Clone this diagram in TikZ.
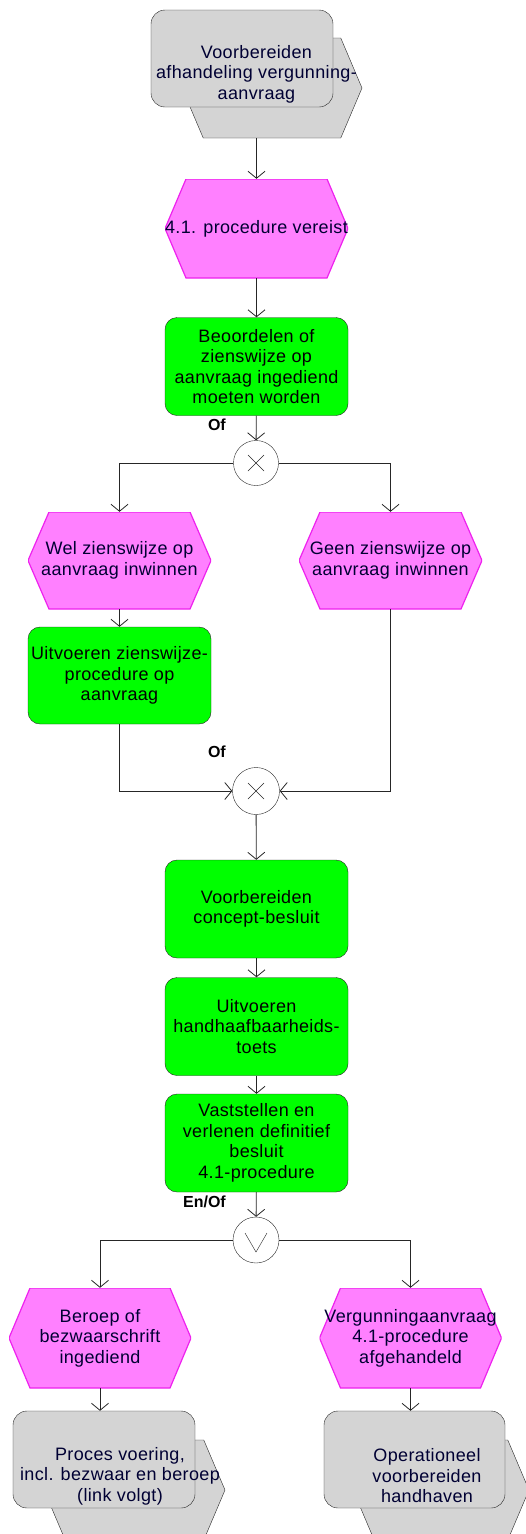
\documentclass[tikz,border=0pt]{standalone}
\usepackage{fontspec}
\setmainfont{Liberation Sans}
\usetikzlibrary{shapes.symbols,arrows.meta}
\definecolor{evpink}{HTML}{FF80FF}
\definecolor{evline}{HTML}{EE22EE}
\definecolor{fngreen}{HTML}{00FF00}
\definecolor{pigrey}{HTML}{D4D4D4}
\newcommand{\boxfont}{\fontsize{18}{20.5}\selectfont\addfontfeatures{LetterSpace=2}}
\begin{document}
\begin{tikzpicture}[x=1pt, y=-1pt,
    event/.style={rectangle, minimum width=183pt, minimum height=99pt,
        inner sep=0pt, align=center, text=black!80!blue, font=\boxfont,
        path picture={
            \filldraw[draw=evline, fill=evpink, line width=1.2pt]
                ([xshift=21pt]path picture bounding box.north west)
                -- ([xshift=-21pt]path picture bounding box.north east)
                -- (path picture bounding box.east)
                -- ([xshift=-21pt]path picture bounding box.south east)
                -- ([xshift=21pt]path picture bounding box.south west)
                -- (path picture bounding box.west) -- cycle;}},
    func/.style={rectangle, draw=black!85, rounded corners=12pt, fill=fngreen,
        minimum width=183pt, minimum height=98pt, inner sep=0pt,
        align=center, font=\boxfont},
    piback/.style={signal, signal to=west and east, signal pointer angle=134,
        draw=black!85, fill=pigrey, minimum width=180pt, minimum height=100pt,
        inner sep=0pt},
    pifront/.style={rectangle, draw=black!85, rounded corners=14pt, fill=pigrey,
        minimum width=182pt, minimum height=97pt, inner sep=0pt},
    pitext/.style={align=center, text=black!80!blue, font=\boxfont},
    xorgate/.style={circle, draw=black!85, fill=white, minimum size=45pt,
        inner sep=0pt, path picture={
            \draw[black!85] (path picture bounding box.center) ++(-8,-8) -- ++(16,16)
                (path picture bounding box.center) ++(-8,8) -- ++(16,-16);}},
    orgate/.style={circle, draw=black!85, fill=white, minimum size=46pt,
        inner sep=0pt, path picture={
            \draw[black!85] (path picture bounding box.center) ++(-11,-7)
                -- ++(11,19) -- ++(11,-19);}},
    gatelbl/.style={anchor=east, inner sep=0pt, font=\bfseries\fontsize{16}{16}\selectfont},
    flow/.style={draw=black!85, line width=0.8pt, -{Straight Barb[length=7pt,width=17pt]}}]

\useasboundingbox (0,0) rectangle (525,1534);

% top process interface
\node (PIback01) [piback] at (272,88) {};
\node (PIfront01) [pifront] at (242,58.5) {};
\node (PItext01) [pitext] at (256.5,74) {Voorbereiden\\afhandeling vergunning-\\aanvraag};

\node (Event01) [event] at (256.5,228.5) {4.1. procedure vereist};
\node (Func01) [func] at (256.5,366.5) {Beoordelen of\\zienswijze op\\aanvraag ingediend\\moeten worden};
\node (Conn01) [xorgate] at (256,463) {};
\node (Lbl01) [gatelbl] at (226,425) {Of};

\node (Event02) [event, minimum height=97pt] at (119.5,560.5) {Wel zienswijze op\\aanvraag inwinnen};
\node (Event03) [event, minimum height=97pt] at (390.5,560.5) {Geen zienswijze op\\aanvraag inwinnen};
\node (Func02) [func, minimum height=97pt] at (119.5,675.5) {Uitvoeren zienswijze-\\procedure op\\aanvraag};
\node (Conn02) [xorgate, minimum size=47pt] at (256,791) {};
\node (Lbl02) [gatelbl] at (226,752) {Of};

\node (Func03) [func] at (256.5,909) {Voorbereiden\\concept-besluit};
\node (Func04) [func] at (256.5,1026.5) {Uitvoeren\\handhaafbaarheids-\\toets};
\node (Func05) [func] at (256.5,1143) {Vaststellen en\\verlenen definitief\\besluit\\4.1-procedure};
\node (Conn03) [orgate] at (256,1240) {};
\node (Lbl03) [gatelbl] at (226,1202) {En/Of};

\node (Event04) [event, minimum width=182pt, minimum height=100pt] at (100,1338) {Beroep of\\bezwaarschrift\\ingediend};
\node (Event05) [event, minimum width=182pt, minimum height=100pt] at (410.5,1338) {Vergunningaanvraag\\4.1-procedure\\afgehandeld};

% bottom process interfaces
\node (PIback02) [piback, minimum width=181pt] at (134.5,1490) {};
\node (PIfront02) [pifront] at (104,1459.5) {};
\node (PItext02) [pitext] at (120,1476) {Proces voering,\\incl. bezwaar en beroep\\(link volgt)};
\node (PIback03) [piback, minimum width=176pt] at (441,1490) {};
\node (PIfront03) [pifront, minimum width=181pt] at (414.5,1459.5) {};
\node (PItext03) [pitext] at (427,1476) {Operationeel\\voorbereiden\\handhaven};

% connections
\draw[flow] (PIback01.south -| Event01.north) -- (Event01.north);
\draw[flow] (Event01) -- (Func01);
\draw[flow] (Func01) -- (Conn01);
\draw[flow] (Conn01.west) -| (Event02.north);
\draw[flow] (Conn01.east) -| (Event03.north);
\draw[flow] (Event02) -- (Func02);
\draw[flow] (Func02.south) |- (Conn02.west);
\draw[flow] (Event03.south) |- (Conn02.east);
\draw[flow] (Conn02) -- (Func03);
\draw[flow] (Func03) -- (Func04);
\draw[flow] (Func04) -- (Func05);
\draw[flow] (Func05) -- (Conn03);
\draw[flow] (Conn03.west) -| (Event04.north);
\draw[flow] (Conn03.east) -| (Event05.north);
\draw[flow] (Event04.south) -- (Event04.south |- PIfront02.north);
\draw[flow] (Event05.south) -- (Event05.south |- PIfront03.north);

\end{tikzpicture}
\end{document}
